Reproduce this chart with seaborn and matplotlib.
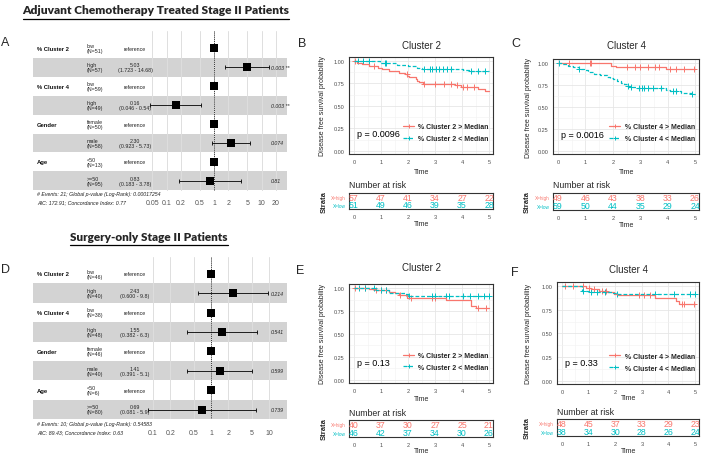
import numpy as np
import pandas as pd
import matplotlib
matplotlib.use("Agg")
import matplotlib.pyplot as plt
import seaborn as sns
from matplotlib.transforms import blended_transform_factory
from matplotlib.lines import Line2D

# ------------------------------------------------------------------ data
# Forest plot A (adjuvant chemotherapy)
A_vars = ["% Cluster 2", "% Cluster 4", "Gender", "Age"]
A_levels = [["low", "high"], ["low", "high"], ["female", "male"], ["<50", ">=50"]]
A_n = [[51, 57], [59, 49], [50, 58], [13, 95]]
A_hr = [5.03, 0.16, 2.30, 0.83]
A_lo = [1.723, 0.046, 0.923, 0.183]
A_hi = [14.68, 0.54, 5.73, 3.78]
A_p = ["0.003", "0.003", "0.074", "0.81"]
A_sig = ["**", "**", "", ""]
A_ticks = [0.05, 0.1, 0.2, 0.5, 1, 2, 5, 10, 20]
A_foot = ["# Events: 21; Global p-value (Log-Rank): 0.00017254",
          "AIC: 172.91; Concordance Index: 0.77"]

# Forest plot D (surgery only)
D_vars = ["% Cluster 2", "% Cluster 4", "Gender", "Age"]
D_levels = [["low", "high"], ["low", "high"], ["female", "male"], ["<50", ">=50"]]
D_n = [[46, 40], [38, 48], [46, 40], [6, 80]]
D_hr = [2.43, 1.55, 1.41, 0.69]
D_lo = [0.600, 0.382, 0.391, 0.081]
D_hi = [9.8, 6.3, 5.1, 5.9]
D_p = ["0.214", "0.541", "0.599", "0.739"]
D_sig = ["", "", "", ""]
D_ticks = [0.1, 0.2, 0.5, 1, 2, 5, 10]
D_foot = ["# Events: 10; Global p-value (Log-Rank): 0.54583",
          "AIC: 89.43; Concordance Index: 0.63"]

# Kaplan-Meier curves: step times / survival after step / censor times
B_hi_t = [0.1, 0.3, 0.55, 0.9, 1.05, 1.3, 1.65, 1.9, 1.98, 2.05, 2.3, 2.35, 2.42, 2.55, 3.75, 3.95, 4.6, 4.85]
B_hi_s = [0.98, 0.962, 0.945, 0.927, 0.909, 0.89, 0.872, 0.853, 0.835, 0.817, 0.799, 0.78, 0.762, 0.744, 0.728, 0.711, 0.694, 0.672]
B_hi_c = [0.05, 0.75, 1.95, 2.6, 3.0, 3.35, 3.6, 3.8, 4.05, 4.2, 4.45]
B_lo_t = [0.95, 1.6, 2.0, 2.35, 2.5, 4.05, 4.25]
B_lo_s = [0.98, 0.96, 0.941, 0.922, 0.91, 0.895, 0.885]
B_lo_c = [0.15, 0.35, 0.55, 1.15, 1.2, 2.6, 2.8, 2.9, 3.05, 3.15, 3.3, 3.45, 3.6, 4.35, 4.6, 4.85]
B_risk_hi = [57, 47, 41, 34, 27, 22]
B_risk_lo = [51, 49, 46, 39, 35, 28]

C_hi_t = [1.95, 2.1, 3.95]
C_hi_s = [0.963, 0.951, 0.927]
C_hi_c = [0.4, 1.15, 1.2, 2.5, 2.8, 3.0, 3.3, 3.55, 3.7, 4.1, 4.3, 4.6, 4.95]
C_lo_t = [0.15, 0.35, 0.55, 0.75, 0.95, 1.1, 1.3, 1.55, 1.8, 1.9, 2.0, 2.15, 2.3, 2.4, 2.5, 2.6, 2.9, 3.95, 4.1, 4.5, 4.9]
C_lo_s = [0.983, 0.966, 0.949, 0.932, 0.915, 0.898, 0.88, 0.863, 0.846, 0.829, 0.812, 0.795, 0.777, 0.76, 0.743, 0.726, 0.71, 0.693, 0.677, 0.66, 0.645]
C_lo_c = [0.05, 0.75, 2.55, 2.65, 2.95, 3.05, 3.15, 3.3, 3.45, 3.75, 4.2, 4.3, 4.9]
C_risk_hi = [49, 46, 43, 38, 33, 26]
C_risk_lo = [59, 50, 44, 35, 29, 24]

E_hi_t = [0.55, 0.8, 1.3, 1.5, 1.65, 1.95, 3.4, 4.35, 4.5]
E_hi_s = [0.988, 0.975, 0.962, 0.948, 0.92, 0.89, 0.865, 0.80, 0.785]
E_hi_c = [0.05, 0.4, 0.8, 1.0, 1.2, 1.7, 2.1, 2.9, 3.0, 4.6, 4.9]
E_lo_t = [0.8, 1.3, 1.9, 2.0]
E_lo_s = [0.975, 0.95, 0.932, 0.919]
E_lo_c = [0.2, 0.4, 0.75, 1.0, 1.2, 2.05, 2.9, 3.0, 3.4, 3.5, 4.05, 4.3, 4.6, 4.8, 5.0]
E_risk_hi = [40, 37, 30, 27, 25, 21]
E_risk_lo = [46, 42, 37, 34, 30, 26]

F_hi_t = [0.9, 1.1, 1.4, 1.7, 1.95, 2.1, 3.5, 4.3, 4.4]
F_hi_s = [0.985, 0.97, 0.955, 0.94, 0.92, 0.905, 0.88, 0.84, 0.81]
F_hi_c = [0.1, 0.4, 0.8, 1.0, 1.2, 1.5, 1.65, 2.9, 3.1, 3.3, 4.5, 4.6, 4.95]
F_lo_t = [0.75, 1.0, 1.9, 2.05]
F_lo_s = [0.955, 0.942, 0.928, 0.915]
F_lo_c = [0.8, 1.1, 1.3, 1.6, 2.05, 3.5, 4.2, 4.8, 5.0]
F_risk_hi = [48, 45, 37, 33, 29, 23]
F_risk_lo = [38, 34, 30, 28, 26, 24]

risk_times = [0, 1, 2, 3, 4, 5]
km_pvals = ["p = 0.0096", "p = 0.0016", "p = 0.13", "p = 0.33"]

# ------------------------------------------------------------------ setup
sns.set_theme(style="white")
plt.rcParams['font.family'] = ['Liberation Sans', 'DejaVu Sans']
plt.rcParams['axes.unicode_minus'] = False

W, H = 705, 456
fig = plt.figure(figsize=(W / 100, H / 100), dpi=100)
fig.patch.set_facecolor("white")
RED, CYAN = "#F8766D", "#00BFC4"


def fx(x):
    return x / W


def fy(y):
    return 1 - y / H


def ax_px(x0, y0, x1, y1):
    return fig.add_axes([x0 / W, 1 - y1 / H, (x1 - x0) / W, (y1 - y0) / H])


# ------------------------------------------------------------------ forest
def forest(vars_, levels, ns, hr, lo, hi, pv, sig, ticks, foot,
           top, row_top, row_h, bottom, x_one, ppd, tick_y, foot_y):
    xa0, xa1 = 140, 288
    ax = ax_px(xa0, top, xa1, bottom)
    rows = []
    for k in range(len(vars_)):
        rows.append(dict(row=2 * k, est=1.0, lo=np.nan, hi=np.nan))
        rows.append(dict(row=2 * k + 1, est=hr[k], lo=lo[k], hi=hi[k]))
    df = pd.DataFrame(rows)
    sub = df.dropna()
    ax.errorbar(sub["est"], sub["row"],
                xerr=[sub["est"] - sub["lo"], sub["hi"] - sub["est"]],
                fmt="none", ecolor="black", elinewidth=0.6, capsize=1.4,
                capthick=0.6, zorder=3)
    sns.scatterplot(data=df, x="est", y="row", marker="s", color="black",
                    s=26, linewidth=0, ax=ax, zorder=4, clip_on=False)
    ax.set_xscale("log")
    ax.set_xlim(10 ** ((xa0 - x_one) / ppd), 10 ** ((xa1 - x_one) / ppd))
    yt = (top - row_top) / row_h - 0.5
    yb = (bottom - row_top) / row_h - 0.5
    ax.set_ylim(yb, yt)
    ax.patch.set_alpha(0)
    for s in ax.spines.values():
        s.set_visible(False)
    ax.set_xticks(ticks)
    ax.set_xticklabels([f"{t:g}" for t in ticks])
    ax.minorticks_off()
    ax.set_yticks([])
    ax.set_xlabel("")
    ax.set_ylabel("")
    ax.tick_params(axis="x", length=0, labelsize=5, labelcolor="#555555",
                   pad=(tick_y - 3.5 - bottom) / 1.389)
    ax.grid(axis="x", color="#dedede", lw=0.7)
    ax.set_axisbelow(True)
    for k in range(len(vars_)):
        r = 2 * k + 1
        ax.axhspan(r - 0.5, r + 0.5, xmin=(33 - xa0) / (xa1 - xa0),
                   xmax=(287 - xa0) / (xa1 - xa0), color="#d3d3d3", lw=0,
                   zorder=0.2, clip_on=False)
    ax.axvline(1, color="black", lw=0.6, ls=(0, (1, 1.3)), zorder=2)

    tr = blended_transform_factory(fig.transFigure, ax.transData)
    for k in range(len(vars_)):
        r0, r1 = 2 * k, 2 * k + 1
        ax.text(fx(37), r0, vars_[k], transform=tr, ha="left", va="center",
                size=4.2, weight="bold", color="#111111")
        for j, r in enumerate([r0, r1]):
            ax.text(fx(87), r, f"{levels[k][j]}\n(N={ns[k][j]})", transform=tr,
                    ha="left", va="center", size=3.8, linespacing=1.0,
                    color="#222222")
        ax.text(fx(135), r0, "reference", transform=tr, ha="center",
                va="center", size=3.8, color="#222222")
        ax.text(fx(135), r1, f"{hr[k]:.2f}\n({lo[k]:.3f} - {hi[k]:g})",
                transform=tr, ha="center", va="center", size=3.8,
                linespacing=1.0, color="#222222")
        ptxt = pv[k] + ((" " + sig[k]) if sig[k] else "")
        ax.text(fx(271), r1, ptxt, transform=tr, ha="left", va="center",
                size=3.8, style="italic", color="#222222")
    for txt, yy in zip(foot, foot_y):
        fig.text(fx(37), fy(yy), txt, ha="left", va="center", size=3.8,
                 style="italic", color="#222222")


forest(A_vars, A_levels, A_n, A_hr, A_lo, A_hi, A_p, A_sig, A_ticks, A_foot,
       top=32, row_top=40, row_h=18.9, bottom=192, x_one=214, ppd=47.5,
       tick_y=204, foot_y=[195, 203])
forest(D_vars, D_levels, D_n, D_hr, D_lo, D_hi, D_p, D_sig, D_ticks, D_foot,
       top=258, row_top=265, row_h=19.4, bottom=420, x_one=211, ppd=58,
       tick_y=434, foot_y=[425, 433])


# ------------------------------------------------------------------ KM
def step_df(times, surv):
    t = [0.0] + list(times) + [5.0]
    s = [1.0] + list(surv) + [surv[-1]]
    return pd.DataFrame({"time": t, "surv": s})


def surv_at(times, surv, ct):
    idx = np.searchsorted(np.asarray(times), np.asarray(ct), side="right")
    vals = np.concatenate([[1.0], np.asarray(surv)])
    return vals[idx]


def km_panel(box, title_y, ylab_x, time_y, pval, clname,
             hi_t, hi_s, hi_c, lo_t, lo_s, lo_c, r_hi, r_lo,
             nar_y, rbox, strata_x, rtime_y):
    x0, y0, x1, y1 = box
    ax = ax_px(x0, y0, x1, y1)
    unit = (x1 - x0 - 9) / 5
    xlim = (-5 / unit, 5 + 4 / unit)
    for tt, ss, cc, col, ls in [(hi_t, hi_s, hi_c, RED, "-"),
                                (lo_t, lo_s, lo_c, CYAN, (0, (3, 1.6)))]:
        df = step_df(tt, ss)
        sns.lineplot(data=df, x="time", y="surv", drawstyle="steps-post",
                     estimator=None, sort=False, color=col, linewidth=0.9,
                     linestyle=ls, ax=ax)
        cdf = pd.DataFrame({"time": cc, "surv": surv_at(tt, ss, cc)})
        sns.scatterplot(data=cdf, x="time", y="surv", marker="+", color=col,
                        s=18, linewidth=0.7, ax=ax)
    ax.set_xlim(*xlim)
    ax.set_ylim(-0.035, 1.045)
    ax.set_xticks(range(6))
    ax.set_yticks([0, 0.25, 0.5, 0.75, 1.0])
    ax.set_yticklabels(["0.00", "0.25", "0.50", "0.75", "1.00"])
    ax.set_xticks(np.arange(0.5, 5, 1), minor=True)
    ax.set_yticks(np.arange(0.125, 1, 0.25), minor=True)
    ax.grid(which="major", color="#e6e6e6", lw=0.6)
    ax.grid(which="minor", color="#f2f2f2", lw=0.4)
    ax.set_axisbelow(True)
    ax.set_facecolor("white")
    for s in ax.spines.values():
        s.set_color("#333333")
        s.set_linewidth(0.8)
    ax.tick_params(which="major", length=2, width=0.5, color="#333333",
                   labelsize=4, labelcolor="#4d4d4d", pad=1.5)
    ax.tick_params(which="minor", length=0)
    ax.set_xlabel("")
    ax.set_ylabel("")
    ax.text(0.1, 0.19, pval, ha="left", va="center", size=6.5, color="black")
    handles = [Line2D([], [], color=RED, lw=0.9, marker="+", ms=3.5, mew=0.7),
               Line2D([], [], color=CYAN, lw=0.9, ls=(0, (3, 1.6)), marker="+",
                      ms=3.5, mew=0.7)]
    ax.legend(handles, [f"% {clname} > Median", f"% {clname} < Median"],
              loc="lower right", bbox_to_anchor=(1.0, 0.08), frameon=False,
              prop={"weight": "bold", "size": 5}, handlelength=1.6,
              handletextpad=0.6, labelspacing=0.7, borderaxespad=0.2)
    cx = (x0 + 5 + x1 - 4) / 2
    fig.text(fx(cx), fy(title_y), clname, ha="center", va="center", size=7)
    fig.text(fx(ylab_x), fy((y0 + y1) / 2), "Disease free survival probability",
             rotation=90, ha="center", va="center", size=5)
    fig.text(fx(cx), fy(time_y), "Time", ha="center", va="center", size=5)

    # risk table
    rx0, ry0, rx1, ry1 = rbox
    rax = ax_px(rx0, ry0, rx1, ry1)
    rax.set_xlim(*xlim)
    rax.set_ylim(0, 2)
    for t, n in zip(risk_times, r_hi):
        rax.text(t, 1.48, str(n), color=RED, ha="center", va="center", size=6.3)
    for t, n in zip(risk_times, r_lo):
        rax.text(t, 0.52, str(n), color=CYAN, ha="center", va="center", size=6.3)
    rax.set_xticks(risk_times)
    rax.set_yticks([1.5, 0.5])
    rax.set_yticklabels(["X=high", "X=low"])
    for lab, col in zip(rax.get_yticklabels(), [RED, CYAN]):
        lab.set_color(col)
    rax.tick_params(axis="y", length=1.5, width=0.5, color="#333333",
                    labelsize=3.3, pad=1)
    rax.tick_params(axis="x", length=2, width=0.5, color="#333333",
                    labelsize=4, labelcolor="#4d4d4d", pad=1.5)
    rax.set_facecolor("white")
    for s in rax.spines.values():
        s.set_color("#333333")
        s.set_linewidth(0.8)
    fig.text(fx(rx0), fy(nar_y), "Number at risk", ha="left", va="center",
             size=6.3)
    fig.text(fx(strata_x), fy((ry0 + ry1) / 2), "Strata", rotation=90,
             ha="center", va="center", size=5.5, weight="bold")
    fig.text(fx(cx), fy(rtime_y), "Time", ha="center", va="center", size=5)


km_panel((349, 58, 493, 155), 46, 322, 172, km_pvals[0], "Cluster 2",
         B_hi_t, B_hi_s, B_hi_c, B_lo_t, B_lo_s, B_lo_c, B_risk_hi, B_risk_lo,
         186, (349, 194, 493, 210), 324, 225)
km_panel((553, 60, 699, 155), 46, 528, 172, km_pvals[1], "Cluster 4",
         C_hi_t, C_hi_s, C_hi_c, C_lo_t, C_lo_s, C_lo_c, C_risk_hi, C_risk_lo,
         186, (553, 194, 699, 211), 527, 226)
km_panel((349, 285, 493, 384), 268, 322, 400, km_pvals[2], "Cluster 2",
         E_hi_t, E_hi_s, E_hi_c, E_lo_t, E_lo_s, E_lo_c, E_risk_hi, E_risk_lo,
         414, (349, 421, 493, 438), 324, 452)
km_panel((557, 283, 699, 385), 270, 528, 398, km_pvals[3], "Cluster 4",
         F_hi_t, F_hi_s, F_hi_c, F_lo_t, F_lo_s, F_lo_c, F_risk_hi, F_risk_lo,
         413, (557, 420, 699, 437), 527, 452)

# ------------------------------------------------------------------ labels
for lab, x, y in [("A", 5, 43), ("B", 302, 44), ("C", 516, 44),
                  ("D", 5, 270), ("E", 300, 271), ("F", 515, 273)]:
    fig.text(fx(x), fy(y), lab, ha="center", va="center", size=9)

renderer = fig.canvas.get_renderer()


def heading(txt, x0, x1, yc, ul_y):
    t = fig.text(fx((x0 + x1) / 2), fy(yc), txt, ha="center", va="center",
                 weight="heavy", family=["Lato", "DejaVu Sans"], size=10)
    bb = t.get_window_extent(renderer)
    t.set_fontsize(10 * (x1 - x0) / bb.width)
    bb = t.get_window_extent(renderer)
    fig.add_artist(Line2D([bb.x0 / W, bb.x1 / W], [fy(ul_y), fy(ul_y)],
                          transform=fig.transFigure, color="black", lw=0.9))


heading("Adjuvant Chemotherapy Treated Stage II Patients", 22, 290, 11, 19.5)
heading("Surgery-only Stage II Patients", 70, 228, 238, 246)

fig.savefig("out.png", dpi=100, facecolor="white")
